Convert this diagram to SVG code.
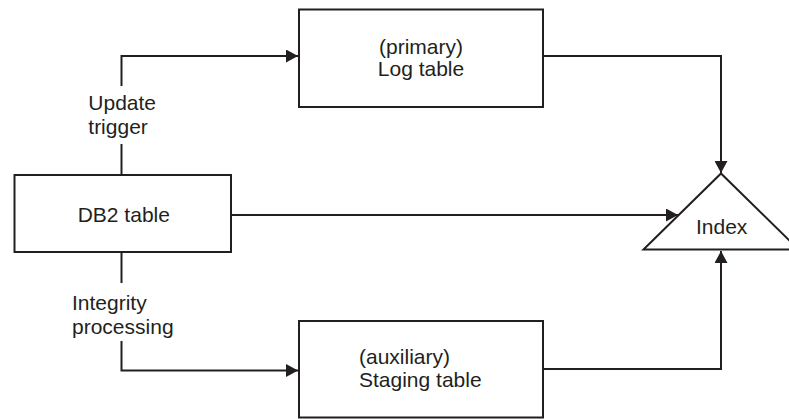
<svg xmlns="http://www.w3.org/2000/svg" width="789" height="419" viewBox="0 0 789 419">
<style>
.box{fill:#fff;stroke:#231f20;stroke-width:2}
.tri{fill:#fff;stroke:#231f20;stroke-width:2;stroke-linejoin:miter}
.ln{fill:none;stroke:#231f20;stroke-width:2}
text{font-family:"Liberation Sans",Arial,sans-serif;font-size:21px;fill:#231f20}
.mid{text-anchor:middle}
</style>
<defs>
<marker id="arr" markerUnits="userSpaceOnUse" markerWidth="13" markerHeight="13" refX="12" refY="6.5" orient="auto">
<path d="M0,0 L12,6.5 L0,13 z" fill="#231f20"/>
</marker>
</defs>
<rect width="789" height="419" fill="#fff"/>
<g id="connectors">
<polyline class="ln" points="121.5,175 121.5,144"/>
<polyline class="ln" points="121.5,86 121.5,56 298,56" marker-end="url(#arr)"/>
<polyline class="ln" points="121.5,252 121.5,283"/>
<polyline class="ln" points="121.5,341 121.5,370.5 298,370.5" marker-end="url(#arr)"/>
<polyline class="ln" points="231,215 678,215" marker-end="url(#arr)"/>
<polyline class="ln" points="543,56 721,56 721,173" marker-end="url(#arr)"/>
<polyline class="ln" points="543,369 721,369 721,251" marker-end="url(#arr)"/>
<text x="88.3" y="110">Update</text>
<text x="88.3" y="133.5">trigger</text>
<text x="72" y="310">Integrity</text>
<text x="72" y="333.5">processing</text>
</g>
<g id="db2">
<rect class="box" x="14.5" y="175" width="216.5" height="77"/>
<text x="77.7" y="222.3">DB2 table</text>
</g>
<g id="primary">
<rect class="box" x="299" y="9.5" width="244" height="97.5"/>
<text class="mid" x="421" y="53.5">(primary)</text>
<text class="mid" x="421" y="75.5">Log table</text>
</g>
<g id="staging">
<rect class="box" x="299" y="321" width="244" height="96.5"/>
<text x="359" y="364">(auxiliary)</text>
<text x="359" y="386.5">Staging table</text>
</g>
<g id="index">
<polygon class="tri" points="643.5,249.5 721,173.5 798.5,249.5"/>
<text class="mid" x="721.7" y="234">Index</text>
</g>
</svg>
